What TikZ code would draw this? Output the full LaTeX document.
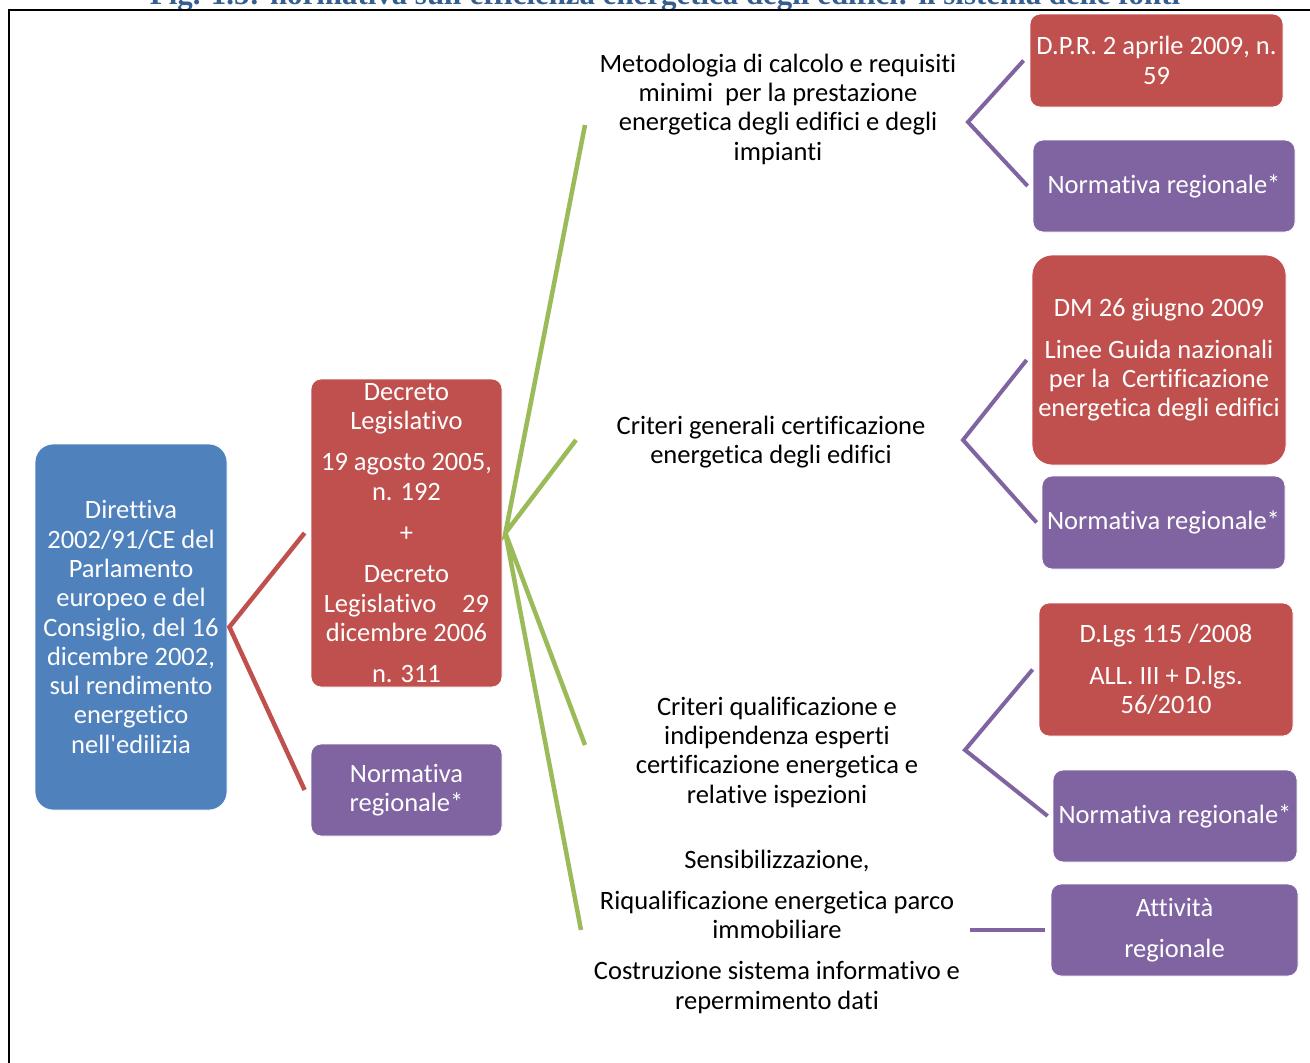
\documentclass[tikz,border=0pt]{standalone}
\usepackage{fontspec}
\setmainfont{Carlito}[Ligatures={TeX,NoCommon}, Contextuals={NoAlternate}, RawFeature={-liga;-clig;-calt}]
\newfontfamily\titlefont{Liberation Serif}
\definecolor{cblue}{HTML}{4F81BD}
\definecolor{cred}{HTML}{C0504D}
\definecolor{cpurple}{HTML}{8064A2}
\definecolor{cgreen}{HTML}{9BBB59}
\definecolor{ctitle}{HTML}{365F91}
\newcommand\diagfont{\fontsize{26.5}{29.3}\selectfont}
\tikzset{
  box/.style={rounded corners=10pt, draw=white, line width=0.8pt, text=white,
    align=center, inner sep=0pt, font=\diagfont},
  bluebox/.style={box, fill=cblue, rounded corners=18pt},
  redbox/.style={box, fill=cred},
  purplebox/.style={box, fill=cpurple},
  label/.style={align=center, inner sep=0pt, font=\diagfont, text=black},
  redline/.style={draw=cred, line width=4.5pt},
  greenline/.style={draw=cgreen, line width=4.5pt},
  purpleline/.style={draw=cpurple, line width=4pt},
}
\begin{document}
\begin{tikzpicture}[x=1pt,y=-1pt]
\useasboundingbox (0,0) rectangle (1310,1063);
\clip (0,0) rectangle (1310,1063);

% title (cut off at the top, as in the reference)
\node[anchor=base, text=ctitle, font=\titlefont\bfseries, inner sep=0pt] (title) at (665,4)
  {\resizebox{1030pt}{!}{Fig. 1.5: normativa sull\textquotesingle efficienza energetica degli edifici: il sistema delle fonti}};

% frame
\draw[line width=2.5pt] (9,1080) -- (9,10) -- (1330,10);

% boxes
\node[bluebox, minimum width=192pt, minimum height=366pt] (dir) at (131,627)
  {Direttiva\\2002/91/CE del\\Parlamento\\europeo e del\\Consiglio, del 16\\dicembre 2002,\\sul rendimento\\energetico\\nell\textquotesingle edilizia};

\node[redbox, minimum width=191pt, minimum height=308pt] (dl) at (406.5,533)
  {Decreto\\Legislativo\\[12pt]19 agosto 2005,\\n. 192\\[12pt]+\\[12pt]Decreto\\Legislativo\hspace{26pt}29\\dicembre 2006\\[12pt]n. 311};

\node[purplebox, minimum width=191pt, minimum height=92pt] (nrl) at (406.5,790)
  {Normativa\\regionale*};

\node[redbox, minimum width=253pt, minimum height=93pt] (dpr) at (1156.5,60.5)
  {D.P.R. 2 aprile 2009, n.\\59};
\node[purplebox, minimum width=262pt, minimum height=92pt] (nr1) at (1164,186)
  {Normativa regionale*};
\node[redbox, rounded corners=20pt, minimum width=254pt, minimum height=210pt] (dm) at (1159,360)
  {DM 26 giugno 2009\\[12pt]Linee Guida nazionali\\per la~ Certificazione\\energetica degli edifici};
\node[purplebox, minimum width=243pt, minimum height=93pt] (nr2) at (1163.5,522.5)
  {Normativa regionale*};
\node[redbox, minimum width=254pt, minimum height=133pt] (dlgs) at (1166,669.5)
  {D.Lgs 115 /2008\\[12pt]ALL. III + D.lgs.\\56/2010};
\node[purplebox, minimum width=244pt, minimum height=92pt] (nr3) at (1175,816)
  {Normativa regionale*};
\node[purplebox, minimum width=247pt, minimum height=92pt] (att) at (1174.5,930)
  {Attività\\[12pt]regionale};

% text labels
\node[label] (met) at (778,109)
  {Metodologia di calcolo e requisiti\\minimi~ per la prestazione\\energetica degli edifici e degli\\impianti};
\node[label] (crg) at (771,442)
  {Criteri generali certificazione\\energetica degli edifici};
\node[label] (crq) at (777,752)
  {Criteri qualificazione e\\indipendenza esperti\\certificazione energetica e\\relative ispezioni};
\node[label] (sens) at (777,932)
  {Sensibilizzazione,\\[11pt]Riqualificazione energetica parco\\immobiliare\\[12pt]Costruzione sistema informativo e\\repermimento dati};

% free ends and hubs
\coordinate (g1) at (585,125);
\coordinate (g2) at (576,440);
\coordinate (g3) at (585,745);
\coordinate (g4) at (581,930);
\coordinate (h1) at (968,122);
\coordinate (h2) at (963,440);
\coordinate (h3) at (965,750);
\coordinate (h4) at (970,930);

% red connectors
\draw[redline] ([xshift=-6pt]dl.west) -- ([xshift=2pt]dir.east) -- ([xshift=-6pt]nrl.west);

% green connectors
\draw[greenline] (g1) -- ([xshift=3pt]dl.east) -- (g2);
\draw[greenline] (g3) -- ([xshift=3pt]dl.east) -- (g4);

% purple connectors
\draw[purpleline] ([xshift=-6pt]dpr.west) -- (h1) -- ([xshift=-5pt]nr1.west);
\draw[purpleline] ([xshift=-5pt]dm.west) -- (h2) -- ([xshift=-5pt]nr2.west);
\draw[purpleline] ([xshift=-6pt]dlgs.west) -- (h3) -- ([xshift=-5pt]nr3.west);
\draw[purpleline] (h4) -- ([xshift=-6pt]att.west);
\end{tikzpicture}
\end{document}
